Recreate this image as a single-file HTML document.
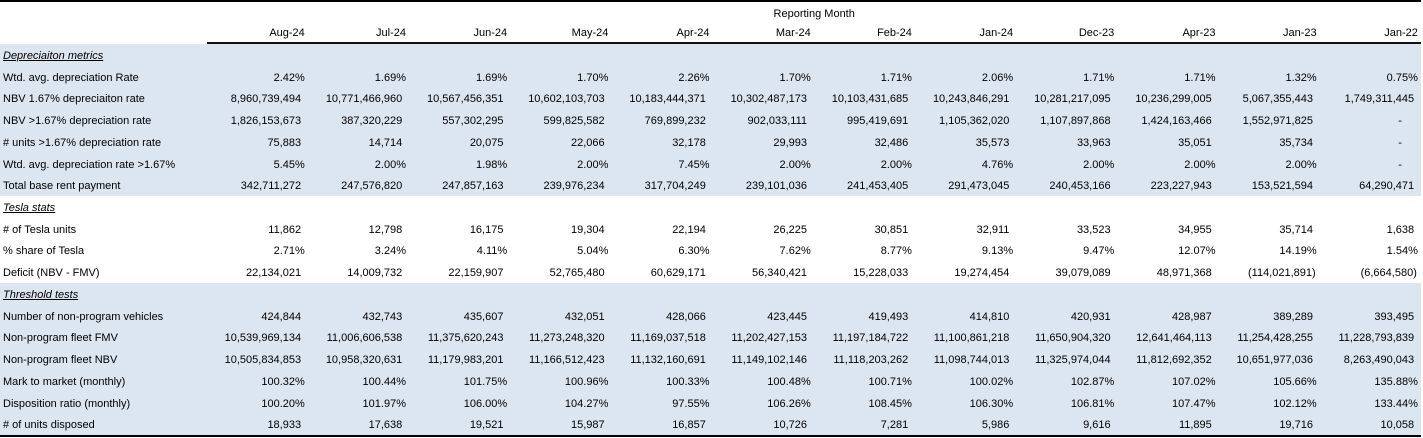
<!DOCTYPE html>
<html>
<head>
<meta charset="utf-8">
<style>
  html,body{margin:0;padding:0;background:#fff;}
  body{width:1423px;height:438px;position:relative;overflow:hidden;
       font-family:"Liberation Sans",Arial,sans-serif;font-size:11px;color:#000;}
  .topline{position:absolute;left:0;top:0;width:1421px;height:2px;background:#000;}
  .rm{position:absolute;left:207px;width:1214.4px;top:7.5px;line-height:13px;text-align:center;}
  .hdr{position:absolute;left:0;top:27.3px;display:flex;line-height:13px;}
  .hline{position:absolute;left:207px;top:42.3px;width:1214.4px;height:1.7px;background:#111;}
  .body{position:absolute;left:0;top:44px;width:1421.4px;}
  .row{display:flex;height:21.72px;line-height:24px;white-space:nowrap;}
  .bl{background:#dce6f1;}
  .lab{width:207px;flex:none;padding-left:3px;box-sizing:border-box;height:21.72px;}
  .c{width:101.2px;flex:none;text-align:right;box-sizing:border-box;padding-right:7.1px;height:21.72px;}
  .p{padding-right:3.4px;}
  .g{padding-right:4.4px;}
  .d{padding-right:19.4px;}
  .sec{font-style:italic;text-decoration:underline;}
  .botline{position:absolute;left:0;top:435px;width:1421px;height:2px;background:#000;}
</style>
</head>
<body>
<div class="topline"></div>
<div class="rm">Reporting Month</div>
<div class="hdr">
  <div class="lab"></div>
  <div class="c p">Aug-24</div><div class="c p">Jul-24</div><div class="c p">Jun-24</div><div class="c p">May-24</div><div class="c p">Apr-24</div><div class="c p">Mar-24</div><div class="c p">Feb-24</div><div class="c p">Jan-24</div><div class="c p">Dec-23</div><div class="c p">Apr-23</div><div class="c p">Jan-23</div><div class="c p">Jan-22</div>
</div>
<div class="hline"></div>

<div class="body">
  <div class="row bl"><div class="lab sec">Depreciaiton metrics</div></div>
  <div class="row bl"><div class="lab">Wtd. avg. depreciation Rate</div>
    <div class="c p">2.42%</div><div class="c p">1.69%</div><div class="c p">1.69%</div><div class="c p">1.70%</div><div class="c p">2.26%</div><div class="c p">1.70%</div><div class="c p">1.71%</div><div class="c p">2.06%</div><div class="c p">1.71%</div><div class="c p">1.71%</div><div class="c p">1.32%</div><div class="c p">0.75%</div></div>
  <div class="row bl"><div class="lab">NBV 1.67% depreciaiton rate</div>
    <div class="c">8,960,739,494</div><div class="c">10,771,466,960</div><div class="c">10,567,456,351</div><div class="c">10,602,103,703</div><div class="c">10,183,444,371</div><div class="c">10,302,487,173</div><div class="c">10,103,431,685</div><div class="c">10,243,846,291</div><div class="c">10,281,217,095</div><div class="c">10,236,299,005</div><div class="c">5,067,355,443</div><div class="c">1,749,311,445</div></div>
  <div class="row bl"><div class="lab">NBV &gt;1.67% depreciation rate</div>
    <div class="c">1,826,153,673</div><div class="c">387,320,229</div><div class="c">557,302,295</div><div class="c">599,825,582</div><div class="c">769,899,232</div><div class="c">902,033,111</div><div class="c">995,419,691</div><div class="c">1,105,362,020</div><div class="c">1,107,897,868</div><div class="c">1,424,163,466</div><div class="c">1,552,971,825</div><div class="c d">-</div></div>
  <div class="row bl"><div class="lab"># units &gt;1.67% depreciation rate</div>
    <div class="c">75,883</div><div class="c">14,714</div><div class="c">20,075</div><div class="c">22,066</div><div class="c">32,178</div><div class="c">29,993</div><div class="c">32,486</div><div class="c">35,573</div><div class="c">33,963</div><div class="c">35,051</div><div class="c">35,734</div><div class="c d">-</div></div>
  <div class="row bl"><div class="lab">Wtd. avg. depreciation rate &gt;1.67%</div>
    <div class="c p">5.45%</div><div class="c p">2.00%</div><div class="c p">1.98%</div><div class="c p">2.00%</div><div class="c p">7.45%</div><div class="c p">2.00%</div><div class="c p">2.00%</div><div class="c p">4.76%</div><div class="c p">2.00%</div><div class="c p">2.00%</div><div class="c p">2.00%</div><div class="c d">-</div></div>
  <div class="row bl"><div class="lab">Total base rent payment</div>
    <div class="c">342,711,272</div><div class="c">247,576,820</div><div class="c">247,857,163</div><div class="c">239,976,234</div><div class="c">317,704,249</div><div class="c">239,101,036</div><div class="c">241,453,405</div><div class="c">291,473,045</div><div class="c">240,453,166</div><div class="c">223,227,943</div><div class="c">153,521,594</div><div class="c">64,290,471</div></div>

  <div class="row"><div class="lab sec">Tesla stats</div></div>
  <div class="row"><div class="lab"># of Tesla units</div>
    <div class="c">11,862</div><div class="c">12,798</div><div class="c">16,175</div><div class="c">19,304</div><div class="c">22,194</div><div class="c">26,225</div><div class="c">30,851</div><div class="c">32,911</div><div class="c">33,523</div><div class="c">34,955</div><div class="c">35,714</div><div class="c">1,638</div></div>
  <div class="row"><div class="lab">% share of Tesla</div>
    <div class="c p">2.71%</div><div class="c p">3.24%</div><div class="c p">4.11%</div><div class="c p">5.04%</div><div class="c p">6.30%</div><div class="c p">7.62%</div><div class="c p">8.77%</div><div class="c p">9.13%</div><div class="c p">9.47%</div><div class="c p">12.07%</div><div class="c p">14.19%</div><div class="c p">1.54%</div></div>
  <div class="row"><div class="lab">Deficit (NBV - FMV)</div>
    <div class="c">22,134,021</div><div class="c">14,009,732</div><div class="c">22,159,907</div><div class="c">52,765,480</div><div class="c">60,629,171</div><div class="c">56,340,421</div><div class="c">15,228,033</div><div class="c">19,274,454</div><div class="c">39,079,089</div><div class="c">48,971,368</div><div class="c g">(114,021,891)</div><div class="c g">(6,664,580)</div></div>

  <div class="row bl"><div class="lab sec">Threshold tests</div></div>
  <div class="row bl"><div class="lab">Number of non-program vehicles</div>
    <div class="c">424,844</div><div class="c">432,743</div><div class="c">435,607</div><div class="c">432,051</div><div class="c">428,066</div><div class="c">423,445</div><div class="c">419,493</div><div class="c">414,810</div><div class="c">420,931</div><div class="c">428,987</div><div class="c">389,289</div><div class="c">393,495</div></div>
  <div class="row bl"><div class="lab">Non-program fleet FMV</div>
    <div class="c">10,539,969,134</div><div class="c">11,006,606,538</div><div class="c">11,375,620,243</div><div class="c">11,273,248,320</div><div class="c">11,169,037,518</div><div class="c">11,202,427,153</div><div class="c">11,197,184,722</div><div class="c">11,100,861,218</div><div class="c">11,650,904,320</div><div class="c">12,641,464,113</div><div class="c">11,254,428,255</div><div class="c">11,228,793,839</div></div>
  <div class="row bl"><div class="lab">Non-program fleet NBV</div>
    <div class="c">10,505,834,853</div><div class="c">10,958,320,631</div><div class="c">11,179,983,201</div><div class="c">11,166,512,423</div><div class="c">11,132,160,691</div><div class="c">11,149,102,146</div><div class="c">11,118,203,262</div><div class="c">11,098,744,013</div><div class="c">11,325,974,044</div><div class="c">11,812,692,352</div><div class="c">10,651,977,036</div><div class="c">8,263,490,043</div></div>
  <div class="row bl"><div class="lab">Mark to market (monthly)</div>
    <div class="c p">100.32%</div><div class="c p">100.44%</div><div class="c p">101.75%</div><div class="c p">100.96%</div><div class="c p">100.33%</div><div class="c p">100.48%</div><div class="c p">100.71%</div><div class="c p">100.02%</div><div class="c p">102.87%</div><div class="c p">107.02%</div><div class="c p">105.66%</div><div class="c p">135.88%</div></div>
  <div class="row bl"><div class="lab">Disposition ratio (monthly)</div>
    <div class="c p">100.20%</div><div class="c p">101.97%</div><div class="c p">106.00%</div><div class="c p">104.27%</div><div class="c p">97.55%</div><div class="c p">106.26%</div><div class="c p">108.45%</div><div class="c p">106.30%</div><div class="c p">106.81%</div><div class="c p">107.47%</div><div class="c p">102.12%</div><div class="c p">133.44%</div></div>
  <div class="row bl"><div class="lab"># of units disposed</div>
    <div class="c">18,933</div><div class="c">17,638</div><div class="c">19,521</div><div class="c">15,987</div><div class="c">16,857</div><div class="c">10,726</div><div class="c">7,281</div><div class="c">5,986</div><div class="c">9,616</div><div class="c">11,895</div><div class="c">19,716</div><div class="c">10,058</div></div>
</div>
<div class="botline"></div>
</body>
</html>
